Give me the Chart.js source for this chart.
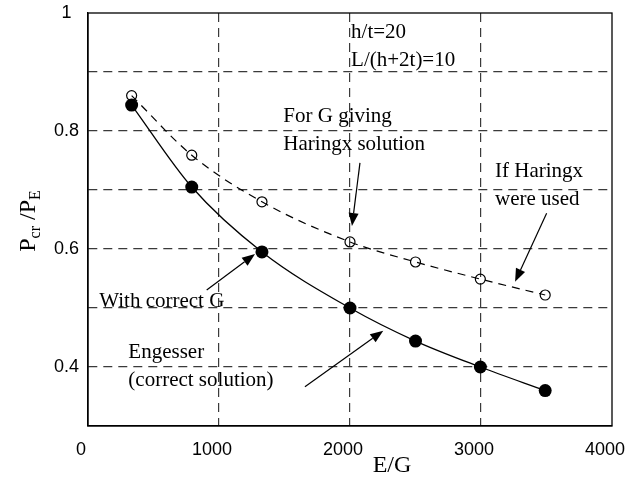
<!DOCTYPE html>
<html>
<head>
<meta charset="utf-8">
<script src="https://cdn.jsdelivr.net/npm/chart.js@4.4.0/dist/chart.umd.min.js"></script>
<style>
  html, body { margin: 0; padding: 0; background: #fff; }
</style>
</head>
<body>
<canvas id="chart" width="632" height="480"></canvas>
<script>
// E/G values shared by both curves
const egRatio = [333, 792, 1328, 2000, 2500, 2995, 3490];
// Engesser (correct solution), filled dots
const engesser = [0.844, 0.705, 0.595, 0.500, 0.444, 0.400, 0.360];
// Haringx, open circles
const haringx = [0.860, 0.759, 0.680, 0.612, 0.578, 0.549, 0.522];
// y values that get a label (grid every 0.1)
const yLabelled = [0.4, 0.6, 0.8, 1];

// notes in data units: left edge, baseline of first line
const notes = [
    { lines: ['h/t=20', 'L/(h+2t)=10'], x: 2008, y: 0.9576 },
    { lines: ['For G giving', 'Haringx solution'], x: 1491, y: 0.8153 },
    { lines: ['If Haringx', 'were used'], x: 3107, y: 0.7225 },
    { lines: ['With correct G'], x: 86, y: 0.5022 },
    { lines: ['Engesser', '(correct solution)'], x: 308, y: 0.4147 }
];
// arrows in data units: from -> tip
const arrows = [
    { x1: 2076, y1: 0.746, x2: 2015, y2: 0.639 },
    { x1: 3501, y1: 0.6605, x2: 3260, y2: 0.5446 },
    { x1: 906, y1: 0.5305, x2: 1275, y2: 0.5915 },
    { x1: 1656, y1: 0.3666, x2: 2254, y2: 0.4615 }
];

const SERIF = '"Liberation Serif", "Times New Roman", serif';
const SANS = '"Liberation Sans", Arial, sans-serif';

const decorations = {
    id: 'decorations',
    afterDatasetsDraw(chart) {
        const { ctx, chartArea: a, scales: { x, y } } = chart;
        ctx.save();

        // plot box
        ctx.strokeStyle = '#000';
        ctx.lineWidth = 1.3;
        ctx.setLineDash([]);
        ctx.strokeRect(a.left, a.top, a.right - a.left, a.bottom - a.top);

        // notes
        ctx.fillStyle = '#000';
        ctx.font = '21px ' + SERIF;
        ctx.textAlign = 'left';
        ctx.textBaseline = 'alphabetic';
        notes.forEach(n => {
            const px = x.getPixelForValue(n.x);
            const py = y.getPixelForValue(n.y);
            n.lines.forEach((t, i) => ctx.fillText(t, px, py + i * 28));
        });

        // arrows
        ctx.lineWidth = 1.2;
        arrows.forEach(ar => {
            const x1 = x.getPixelForValue(ar.x1), y1 = y.getPixelForValue(ar.y1);
            const x2 = x.getPixelForValue(ar.x2), y2 = y.getPixelForValue(ar.y2);
            const ang = Math.atan2(y2 - y1, x2 - x1);
            const len = 13, half = 5;
            const bx = x2 - len * Math.cos(ang), by = y2 - len * Math.sin(ang);
            ctx.beginPath();
            ctx.moveTo(x1, y1);
            ctx.lineTo(bx, by);
            ctx.stroke();
            ctx.beginPath();
            ctx.moveTo(x2, y2);
            ctx.lineTo(bx + half * Math.sin(ang), by - half * Math.cos(ang));
            ctx.lineTo(bx - half * Math.sin(ang), by + half * Math.cos(ang));
            ctx.closePath();
            ctx.fill();
        });

        // x title
        ctx.font = '24px ' + SERIF;
        ctx.textAlign = 'center';
        ctx.fillText('E/G', 392, 472);

        // y title with subscripts
        ctx.translate(27, 221);
        ctx.rotate(-Math.PI / 2);
        const big = '24px ' + SERIF, small = '16px ' + SERIF;
        const parts = [
            { t: 'P', f: big, dy: 0 },
            { t: 'cr', f: small, dy: 5 },
            { t: ' /', f: big, dy: 0 },
            { t: 'P', f: big, dy: 0 },
            { t: 'E', f: small, dy: 5 }
        ];
        let total = 0;
        parts.forEach(p => { ctx.font = p.f; p.w = ctx.measureText(p.t).width; total += p.w; });
        let cx = -total / 2;
        ctx.textAlign = 'left';
        parts.forEach(p => {
            ctx.font = p.f;
            ctx.fillText(p.t, cx, 8 + p.dy);
            cx += p.w;
        });

        ctx.restore();
    }
};

const gridColor = (ctx, lo, hi) => {
    const v = ctx.tick ? ctx.tick.value : null;
    if (v === null || Math.abs(v - lo) < 1e-6 || Math.abs(v - hi) < 1e-6) return 'rgba(0,0,0,0)';
    return '#3a3a3a';
};

new Chart(document.getElementById('chart'), {
    type: 'line',
    data: {
        datasets: [
            {
                label: 'Engesser',
                data: egRatio.map((v, i) => ({ x: v, y: engesser[i] })),
                borderColor: '#000',
                borderWidth: 1.3,
                pointRadius: 6.5,
                pointBackgroundColor: '#000',
                pointBorderWidth: 0,
                cubicInterpolationMode: 'monotone',
                fill: false
            },
            {
                label: 'Haringx',
                data: egRatio.map((v, i) => ({ x: v, y: haringx[i] })),
                borderColor: '#000',
                borderWidth: 1.2,
                borderDash: [8, 6],
                pointRadius: 5,
                pointBackgroundColor: 'rgba(0,0,0,0)',
                pointBorderColor: '#000',
                pointBorderWidth: 1.2,
                cubicInterpolationMode: 'monotone',
                fill: false
            }
        ]
    },
    options: {
        responsive: false,
        devicePixelRatio: 1,
        animation: false,
        layout: { padding: { top: 13, right: 20, left: 0, bottom: 0 } },
        scales: {
            x: {
                type: 'linear',
                min: 0,
                max: 4000,
                afterFit: s => { s.height = 54; s.paddingLeft = 0; s.paddingRight = 0; },
                border: { display: true, color: '#000', width: 1.3, dash: [9, 6] },
                grid: {
                    color: c => gridColor(c, 0, 4000),
                    lineWidth: 1.2,
                    drawTicks: false
                },
                ticks: {
                    stepSize: 1000,
                    color: '#000',
                    font: { family: SANS, size: 18 },
                    padding: 13,
                    labelOffset: -7,
                    maxRotation: 0,
                    callback: v => String(v)
                }
            },
            y: {
                min: 0.3,
                max: 1,
                afterFit: s => { s.width = 88; s.paddingTop = 0; s.paddingBottom = 0; },
                border: { display: true, color: '#000', width: 1.3, dash: [9, 6] },
                grid: {
                    color: c => gridColor(c, 0.3, 1),
                    lineWidth: 1.2,
                    drawTicks: false
                },
                ticks: {
                    stepSize: 0.1,
                    color: '#000',
                    font: { family: SANS, size: 18 },
                    padding: 9,
                    crossAlign: 'center',
                    callback: v => yLabelled.some(t => Math.abs(t - v) < 1e-6) ? String(+v.toFixed(1)) : ''
                }
            }
        },
        plugins: {
            legend: { display: false },
            tooltip: { enabled: false }
        }
    },
    plugins: [decorations]
});
</script>
</body>
</html>
